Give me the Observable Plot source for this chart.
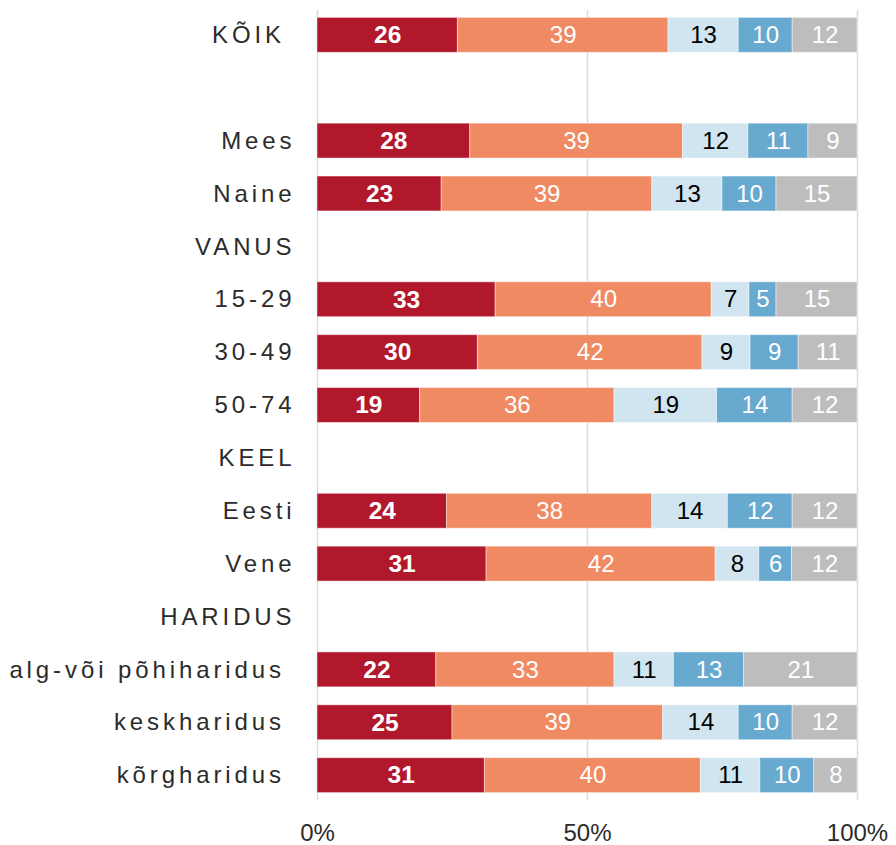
<!DOCTYPE html>
<html><head><meta charset="utf-8">
<script src="https://cdn.jsdelivr.net/npm/d3@7"></script>
<script src="https://cdn.jsdelivr.net/npm/@observablehq/plot@0.6"></script>
<style>
body{margin:0;background:#fff;}
svg text{white-space:pre;}
g[aria-label="y-axis tick label"] text{letter-spacing:3.9px;}
</style></head><body><div id="chart"></div>
<script>
const groups = ["KÕIK ", " ", "Mees", "Naine", "VANUS", "15-29", "30-49", "50-74", "KEEL", "Eesti", "Vene", "HARIDUS", "alg-või põhiharidus ", "keskharidus ", "kõrgharidus "];
const series = ["s1", "s2", "s3", "s4", "s5"];
const s1 = [26, null, 28, 23, null, 33, 30, 19, null, 24, 31, null, 22, 25, 31];
const s2 = [39, null, 39, 39, null, 40, 42, 36, null, 38, 42, null, 33, 39, 40];
const s3 = [13, null, 12, 13, null, 7, 9, 19, null, 14, 8, null, 11, 14, 11];
const s4 = [10, null, 11, 10, null, 5, 9, 14, null, 12, 6, null, 13, 10, 10];
const s5 = [12, null, 9, 15, null, 15, 11, 12, null, 12, 12, null, 21, 12, 8];
const colors = ["#B2182B", "#EF8A62", "#D1E5F0", "#67A9CF", "#BDBDBD"];
const xTicks = [0, 0.5, 1];

const seriesValues = [s1, s2, s3, s4, s5];
const table = [];
groups.forEach((g, i) => {
  if (s1[i] == null) return;
  series.forEach((s, j) => table.push({group: g, series: s, value: seriesValues[j][i]}));
});

const stackOpts = (extra) => Plot.stackX({x: "value", y: "group", z: "series", order: series, offset: "normalize", ...extra});

const chart = Plot.plot({
  width: 896, height: 845,
  marginLeft: 317, marginRight: 39, marginTop: 10, marginBottom: 45,
  style: {fontFamily: "'Liberation Sans', Arial, sans-serif", fontSize: "24px", color: "#2b2b2b", background: "#fff"},
  x: {domain: [0, 1], ticks: xTicks, tickFormat: d3.format(".0%"), label: null},
  y: {domain: groups, paddingInner: 0.34, paddingOuter: 0.14, round: false, label: null},
  color: {domain: series, range: colors},
  marks: [
    Plot.ruleX(xTicks, {stroke: "#dcdcdc", strokeWidth: 1.5}),
    Plot.barX(table, stackOpts({fill: "series", stroke: "white", strokeOpacity: 0.45, strokeWidth: 1})),
    Plot.text(table, stackOpts({text: d => d.series === "s1" ? String(d.value) : "", fill: "white", fontWeight: "bold", fontSize: 24.5})),
    Plot.text(table, stackOpts({text: d => (d.series === "s2" || d.series === "s4" || d.series === "s5") ? String(d.value) : "", fill: "white", fontSize: 24})),
    Plot.text(table, stackOpts({text: d => d.series === "s3" ? String(d.value) : "", fill: "black", fontSize: 24})),
    Plot.axisY({tickSize: 0, tickPadding: 22, fontSize: 24}),
    Plot.axisX({tickSize: 0, tickPadding: 23, fontSize: 24, ticks: xTicks, tickFormat: d3.format(".0%")})
  ]
});
document.getElementById("chart").append(chart);
</script></body></html>
